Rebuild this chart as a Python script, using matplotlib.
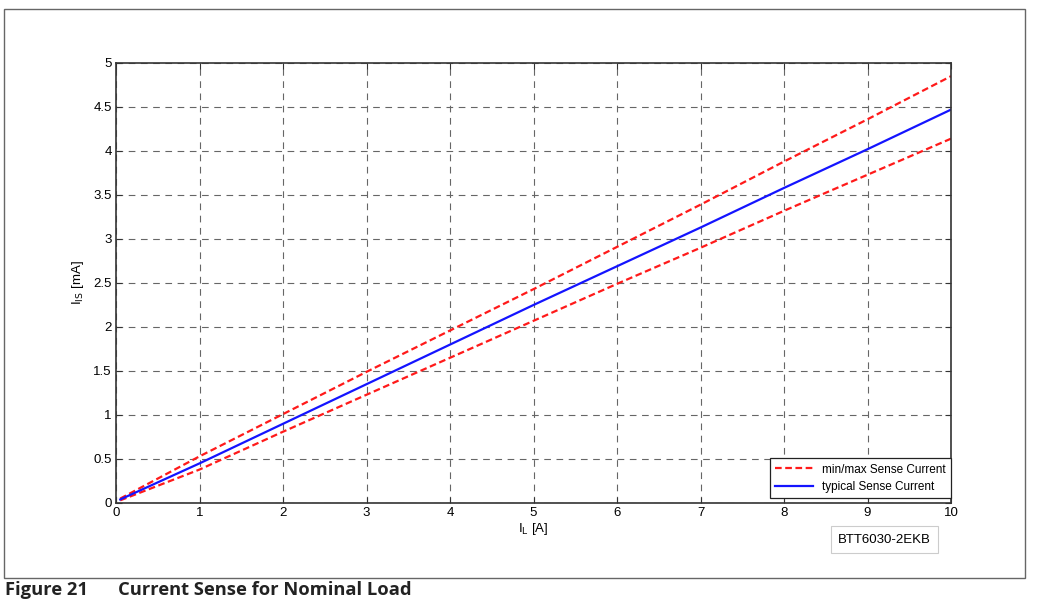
import numpy as np
import matplotlib.pyplot as plt
from matplotlib.patches import Rectangle

# load current [A] and sense current [mA]
load_current = [0.05, 1, 2, 3, 4, 5, 6, 7, 8, 9, 10]
sense_max = [0.05, 0.53, 1.01, 1.49, 1.96, 2.43, 2.91, 3.39, 3.88, 4.36, 4.85]
sense_typ = [0.04, 0.45, 0.90, 1.35, 1.80, 2.25, 2.69, 3.13, 3.58, 4.02, 4.47]
sense_min = [0.03, 0.38, 0.81, 1.23, 1.65, 2.07, 2.49, 2.90, 3.32, 3.73, 4.14]

x_ticks = [0, 1, 2, 3, 4, 5, 6, 7, 8, 9, 10]
y_ticks = [0, 0.5, 1, 1.5, 2, 2.5, 3, 3.5, 4, 4.5, 5]
y_tick_labels = ['0', '0.5', '1', '1.5', '2', '2.5', '3', '3.5', '4', '4.5', '5']

plt.rcParams['font.family'] = ['Liberation Sans', 'DejaVu Sans']

fig = plt.figure(figsize=(10.37, 6.06), dpi=100)
ax = fig.add_axes([0.1119, 0.1700, 0.8052, 0.7261])

ax.plot(load_current, sense_max, color='#ff1a1a', ls=(0, (3, 1.6)), lw=1.6,
        label='min/max Sense Current')
ax.plot(load_current, sense_min, color='#ff1a1a', ls=(0, (3, 1.6)), lw=1.6)
ax.plot(load_current, sense_typ, color='#1414ff', lw=1.6,
        label='typical Sense Current')

ax.set_xlim(0, 10)
ax.set_ylim(0, 5)
ax.set_xticks(x_ticks)
ax.set_yticks(y_ticks)
ax.set_yticklabels(y_tick_labels)
ax.tick_params(direction='in', length=4, width=0.8, labelsize=9.5,
               top=True, right=True, color='#333333', pad=3)
ax.grid(True, ls=(0, (6, 5)), color='#666666', lw=0.8)
for s in ax.spines.values():
    s.set_color('#333333')
    s.set_linewidth(1.2)

ax.set_xlabel(r'I$_{\mathrm{L}}$ [A]', fontsize=9.5, labelpad=1)
ax.set_ylabel(r'I$_{\mathrm{IS}}$ [mA]', fontsize=9.5, labelpad=5)

leg = ax.legend(loc='lower right', bbox_to_anchor=(1.0, 0.011), fontsize=8.5,
                fancybox=False, framealpha=1, edgecolor='#222222',
                handlelength=3.2, borderpad=0.45, labelspacing=0.45,
                borderaxespad=0)
leg.get_frame().set_linewidth(0.9)

# part number box
fig.text(0.853, 0.1097, 'BTT6030-2EKB', fontsize=9.5, ha='center', va='center',
         bbox=dict(boxstyle='square,pad=0.55', fc='white', ec='#cccccc', lw=0.8))

# outer frame around the chart
fig.patches.append(Rectangle((4 / 1037, 1 - 578 / 606), (1025 - 4) / 1037,
                             569 / 606, transform=fig.transFigure, fill=False,
                             ec='#666666', lw=1.0))

fig.text(0.005, 0.018, 'Figure 21', fontsize=13.2, fontweight='bold',
         family='Open Sans', color='#222222', va='baseline')
fig.text(0.1135, 0.018, 'Current Sense for Nominal Load', fontsize=13.2,
         fontweight='bold', family='Open Sans', color='#222222', va='baseline')

fig.savefig('out.png', dpi=100)
